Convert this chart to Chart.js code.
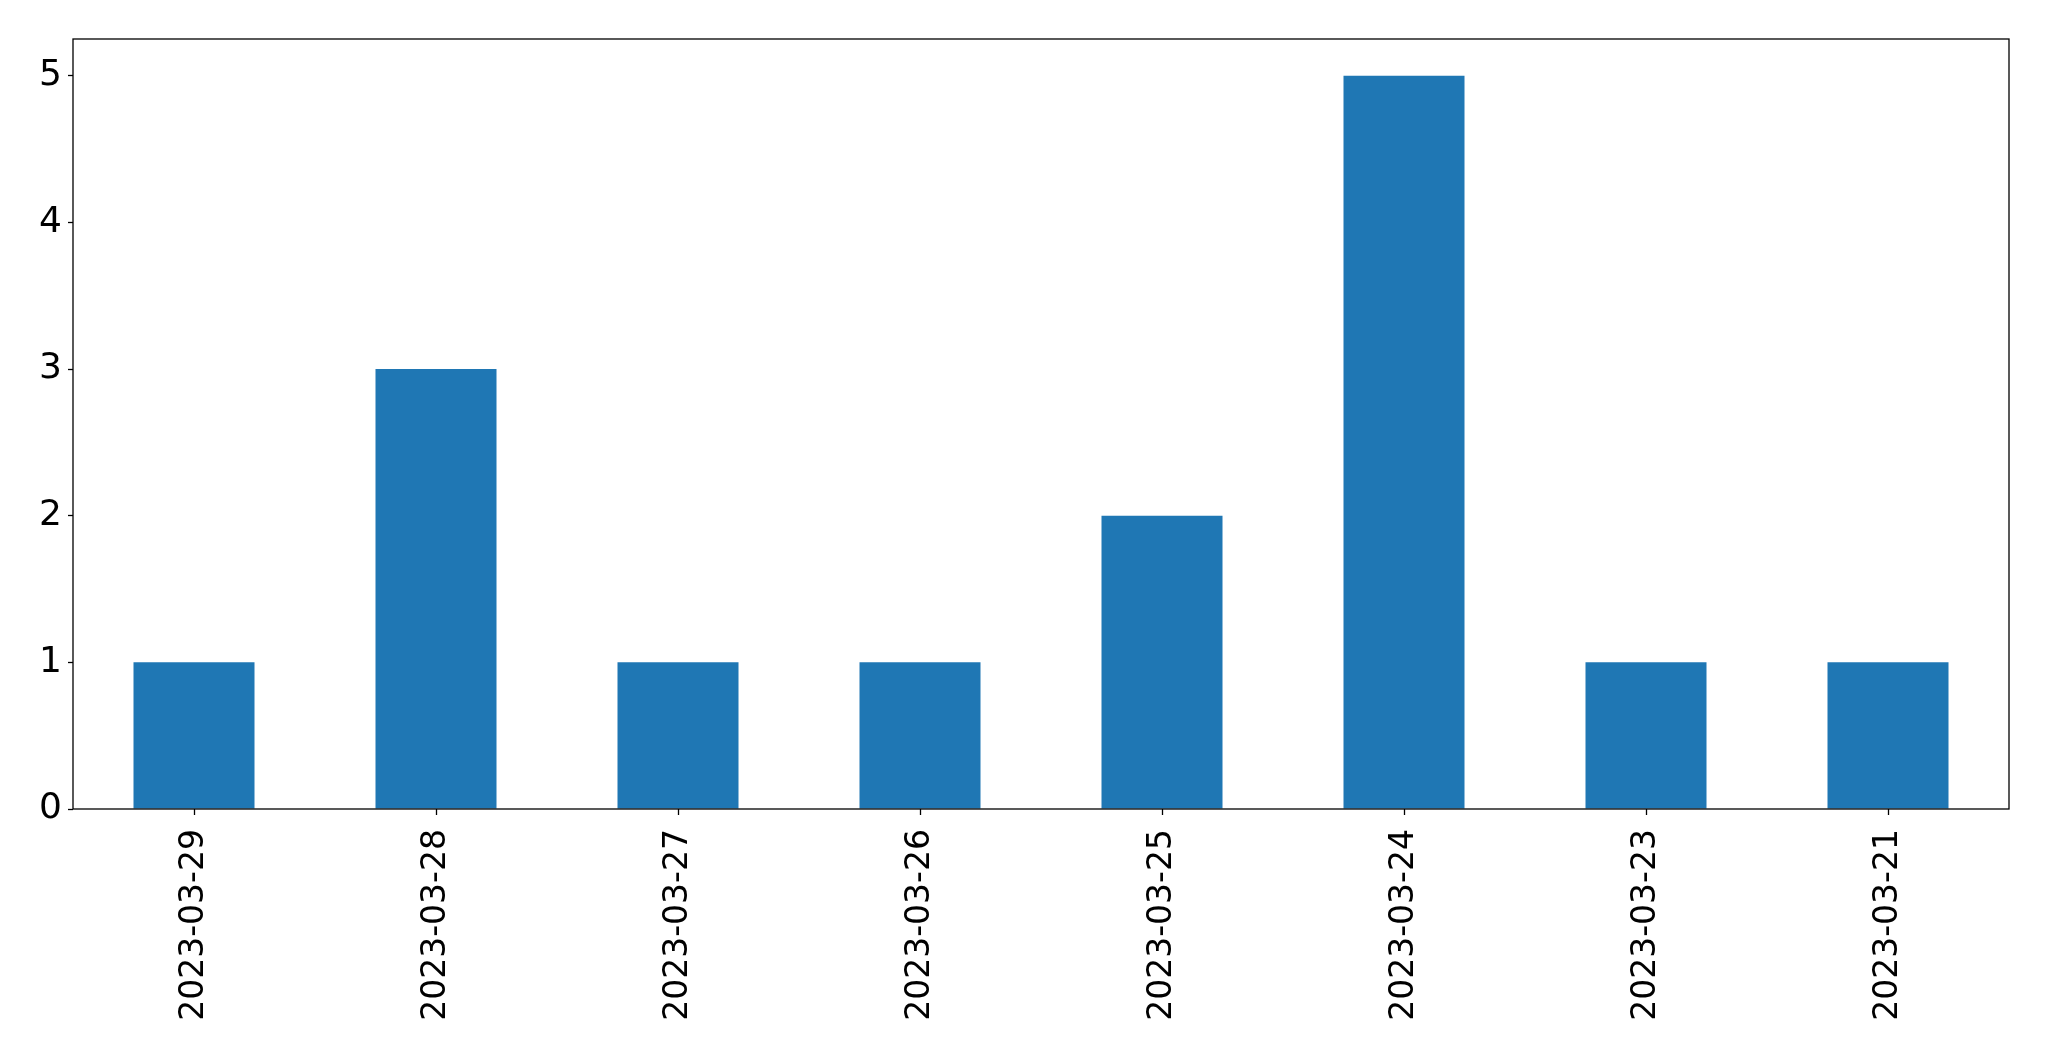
<!DOCTYPE html>
<html>
<head>
<meta charset="utf-8">
<script src="https://cdn.jsdelivr.net/npm/chart.js@4/dist/chart.umd.min.js"></script>
<style>
  html, body { margin: 0; padding: 0; background: #fff; }
  #chart { display: block; }
</style>
</head>
<body>
<canvas id="chart" width="2049" height="1061"></canvas>
<script>
// dados
const dates = ["2023-03-29", "2023-03-28", "2023-03-27", "2023-03-26", "2023-03-25", "2023-03-24", "2023-03-23", "2023-03-21"];
const counts = [1, 3, 1, 1, 2, 5, 1, 1];
const yTicks = [0, 1, 2, 3, 4, 5];

const FONT = "'DejaVu Sans', sans-serif";

// moldura completa em volta da área do gráfico
const frame = {
    id: "frame",
    afterDraw(c) {
        const a = c.chartArea, ctx = c.ctx;
        ctx.save();
        ctx.strokeStyle = "#000";
        ctx.lineWidth = 1.3;
        ctx.strokeRect(a.left, a.top, a.right - a.left, a.bottom - a.top);
        ctx.restore();
    }
};

new Chart(document.getElementById("chart"), {
    type: "bar",
    data: {
        labels: dates,
        datasets: [{
            data: counts,
            backgroundColor: "#1f77b4",
            barPercentage: 0.5,
            categoryPercentage: 1.0
        }]
    },
    options: {
        responsive: false,
        animation: false,
        layout: { padding: { top: 39, right: 40, left: 0, bottom: 0 } },
        plugins: { legend: { display: false }, tooltip: { enabled: false } },
        scales: {
            x: {
                grid: { display: true, offset: false, drawOnChartArea: false, tickLength: 6, tickColor: "#000", tickWidth: 1.3 },
                border: { display: false },
                ticks: {
                    color: "#000",
                    font: { family: FONT, size: 33 },
                    minRotation: 90,
                    maxRotation: 90,
                    padding: 14,
                    autoSkip: false
                },
                afterFit(s) { s.height = 252; }
            },
            y: {
                min: 0,
                max: 5.25,
                grid: { display: true, drawOnChartArea: false, tickLength: 5, tickColor: "#000", tickWidth: 1.3 },
                border: { display: false },
                ticks: {
                    color: "#000",
                    font: { family: FONT, size: 36 },
                    stepSize: 1,
                    includeBounds: false,
                    padding: 6
                },
                afterBuildTicks(s) { s.ticks = yTicks.map(v => ({ value: v })); },
                afterFit(s) { s.width = 73; }
            }
        }
    },
    plugins: [frame]
});
</script>
</body>
</html>
